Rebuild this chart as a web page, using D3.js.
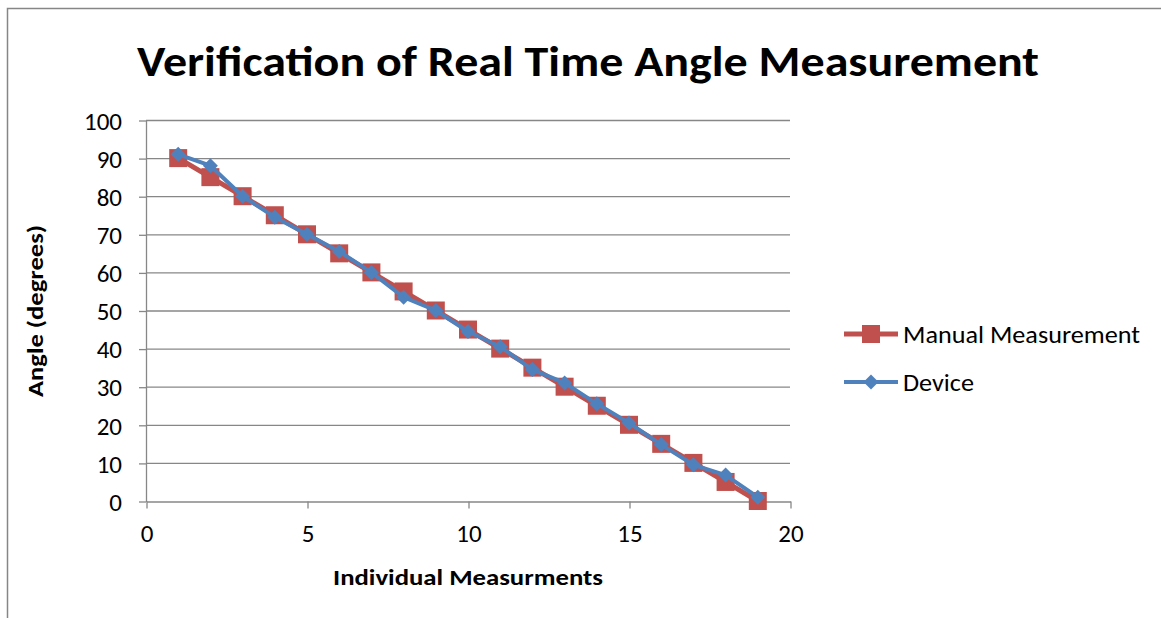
<!DOCTYPE html>
<html><head><meta charset="utf-8">
<script src="https://cdn.jsdelivr.net/npm/d3@7"></script>
<style>body{margin:0;background:#fff;} svg{display:block;}</style>
</head><body>
<script>
const xValues = [1,2,3,4,5,6,7,8,9,10,11,12,13,14,15,16,17,18,19];
const manualValues = [90,85,80,75,70,65,60,55,50,45,40,35,30,25,20,15,10,5,0];
const deviceValues = [91,88,80,74.5,70,65.5,60,53.5,50,44.5,40.5,34.5,31,25.5,20.5,14.8,9.5,6.8,1];
const xTicks = [0,5,10,15,20];
const yTicks = [0,10,20,30,40,50,60,70,80,90,100];
const seriesNames = ["Manual Measurement","Device"];
const titleText = "Verification of Real Time Angle Measurement";
const xLabel = "Individual Measurments";
const yLabel = "Angle (degrees)";

const W = 1161, H = 618;
const font = "Carlito, Calibri, 'Open Sans', sans-serif";
const svg = d3.select("body").append("svg").attr("width", W).attr("height", H);
svg.append("rect").attr("x",7.5).attr("y",8.5).attr("width",W).attr("height",H).attr("fill","#fff").attr("stroke","#868686").attr("stroke-width",1.5);

const x = d3.scaleLinear().domain([0,20]).range([146,790]);
const y = d3.scaleLinear().domain([0,100]).range([501,120]);

// gridlines
svg.append("g").selectAll("line").data(yTicks.filter(d=>d>0)).join("line")
  .attr("x1",x(0)).attr("x2",x(20)).attr("y1",d=>y(d)+0.5).attr("y2",d=>y(d)+0.5)
  .attr("stroke","#878787").attr("stroke-width",1.3);

// y axis
const yAxis = svg.append("g").attr("transform",`translate(${x(0)},0.5)`)
  .call(d3.axisLeft(y).tickValues(yTicks).tickSize(7).tickPadding(17).tickSizeOuter(0));
yAxis.select(".domain").attr("stroke","#878787").attr("stroke-width",1.3);
yAxis.selectAll(".tick line").attr("stroke","#878787").attr("stroke-width",1.3);
yAxis.selectAll("text").attr("font-family",font).attr("font-size",25).attr("fill","#000").attr("dy","0.35em");

// x axis
const xAxis = svg.append("g").attr("transform",`translate(0.5,${y(0)+0.5})`)
  .call(d3.axisBottom(x).tickValues(xTicks).tickSize(7).tickPadding(16).tickSizeOuter(0));
xAxis.select(".domain").attr("stroke","#878787").attr("stroke-width",1.3);
xAxis.selectAll(".tick line").attr("stroke","#878787").attr("stroke-width",1.3);
xAxis.selectAll("text").attr("font-family",font).attr("font-size",25).attr("fill","#000");

// title
svg.append("text").attr("x",588).attr("y",76).attr("text-anchor","middle")
  .attr("font-family",font).attr("font-weight","bold").attr("font-size",42)
  .attr("textLength",902).attr("lengthAdjust","spacingAndGlyphs").text(titleText);
// axis titles
svg.append("text").attr("x",468).attr("y",585).attr("text-anchor","middle")
  .attr("font-family",font).attr("font-weight","bold").attr("font-size",22)
  .attr("textLength",270).attr("lengthAdjust","spacingAndGlyphs").text(xLabel);
svg.append("text").attr("transform","translate(43,311) rotate(-90)").attr("text-anchor","middle")
  .attr("font-family",font).attr("font-weight","bold").attr("font-size",22)
  .attr("textLength",172).attr("lengthAdjust","spacingAndGlyphs").text(yLabel);

const line = d3.line().x(d=>x(d[0])).y(d=>y(d[1]));
const manual = xValues.map((v,i)=>[v,manualValues[i]]);
const device = xValues.map((v,i)=>[v,deviceValues[i]]);
const red = "#C0504D", blue = "#4F81BD";

svg.append("path").datum(manual).attr("d",line).attr("fill","none").attr("stroke",red).attr("stroke-width",5).attr("stroke-linejoin","round");
svg.append("g").selectAll("rect").data(manual).join("rect")
  .attr("x",d=>x(d[0])-9).attr("y",d=>y(d[1])-9).attr("width",18).attr("height",18).attr("fill",red);

svg.append("path").datum(device).attr("d",line).attr("fill","none").attr("stroke",blue).attr("stroke-width",4).attr("stroke-linejoin","round");
svg.append("g").selectAll("path").data(device).join("path")
  .attr("transform",d=>`translate(${x(d[0])},${y(d[1])})`)
  .attr("d", "M0,-7.5L7.5,0L0,7.5L-7.5,0Z").attr("fill",blue);

// legend
const lg = svg.append("g");
lg.append("line").attr("x1",844).attr("x2",898).attr("y1",334).attr("y2",334).attr("stroke",red).attr("stroke-width",5);
lg.append("rect").attr("x",862).attr("y",325).attr("width",18).attr("height",18).attr("fill",red);
lg.append("text").attr("x",903).attr("y",334).attr("dy","0.35em").attr("font-family",font).attr("font-size",25)
  .attr("textLength",237).attr("lengthAdjust","spacingAndGlyphs").text(seriesNames[0]);
lg.append("line").attr("x1",844).attr("x2",898).attr("y1",382).attr("y2",382).attr("stroke",blue).attr("stroke-width",4);
lg.append("path").attr("transform","translate(871,382)").attr("d","M0,-7.5L7.5,0L0,7.5L-7.5,0Z").attr("fill",blue);
lg.append("text").attr("x",903).attr("y",382).attr("dy","0.35em").attr("font-family",font).attr("font-size",25)
  .attr("textLength",71).attr("lengthAdjust","spacingAndGlyphs").text(seriesNames[1]);
</script>
</body></html>
